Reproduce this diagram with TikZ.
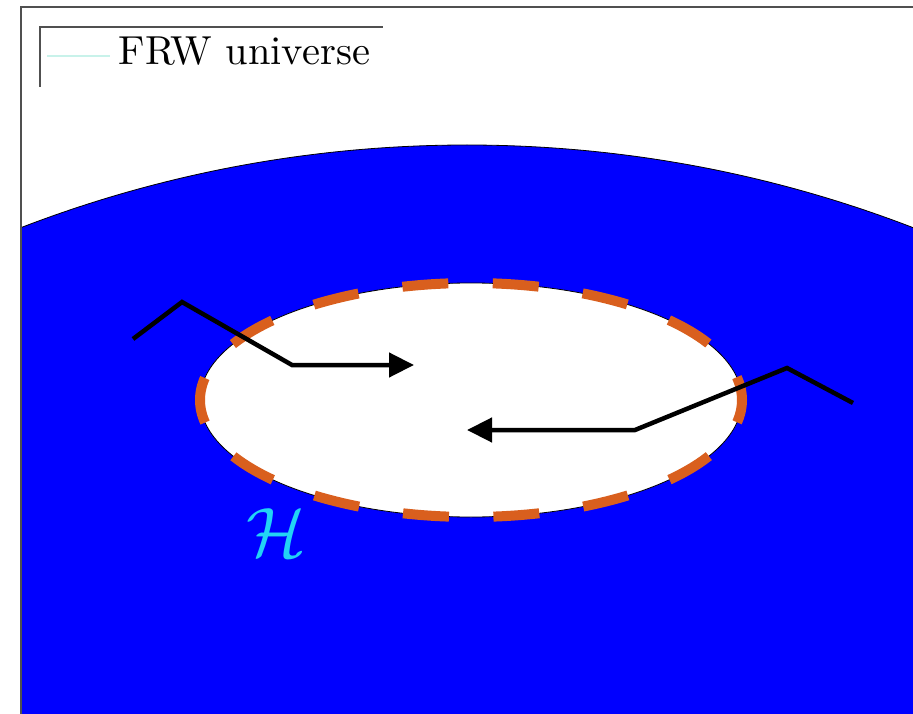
\documentclass[tikz,border=0pt]{standalone}
\usetikzlibrary{arrows.meta}
\definecolor{universe}{HTML}{0000FF}
\definecolor{horizon}{HTML}{D95F1E}
\definecolor{hlabel}{HTML}{22D3F5}
\definecolor{legendline}{HTML}{C8F2EA}
\definecolor{framegrey}{HTML}{505050}

\begin{document}
\begin{tikzpicture}[
  x=1pt, y=-1pt,
  line join=miter,
  every node/.style={inner sep=0pt},
  frame/.style={draw=framegrey, line width=1.6pt},
  region/.style={fill=universe},
  rim/.style={draw=black, line width=0.8pt},
  horizon/.style={draw=horizon, line width=10pt, dash pattern=on 46pt off 44.5pt, dash phase=23pt},
  worldline/.style={draw=black, line width=4.5pt, -{Triangle[length=25pt,width=24pt]}},
]
\useasboundingbox (0,0) rectangle (913,714);
% universe, cut by the frame
\begin{scope}
  \clip (21,7) rectangle (913,714);
  \fill[region] (467,1385) circle [radius=1240];
  \draw[rim] (467,1385) circle [radius=1240];
\end{scope}
% the hole and its horizon
\fill[white] (471,400) ellipse [x radius=271, y radius=117];
\draw[rim] (471,400) ellipse [x radius=271, y radius=117];
\draw[horizon] (471,400) ellipse [x radius=271, y radius=117];
% frame and legend
\draw[frame] (21,714) -- (21,7) -- (913,7);
\draw[frame, line width=1.3pt] (40,87) -- (40,27) -- (383,27);
\draw[draw=legendline, line width=1.5pt] (47,56) -- (110,56);
\node[anchor=base west, scale=4.05] (legend) at (118,65) {FRW universe};
\node[text=hlabel, scale=7] (hor) at (276,533) {$\mathcal{H}$};
% world lines
\coordinate (ina) at (133,339);
\coordinate (inb) at (182,302);
\coordinate (inc) at (292,365);
\coordinate (ind) at (414,365);
\coordinate (outa) at (853,403);
\coordinate (outb) at (787,368);
\coordinate (outc) at (635,430);
\coordinate (outd) at (467,430);
\draw[worldline] (ina) -- (inb) -- (inc) -- (ind);
\draw[worldline] (outa) -- (outb) -- (outc) -- (outd);
\end{tikzpicture}
\end{document}
